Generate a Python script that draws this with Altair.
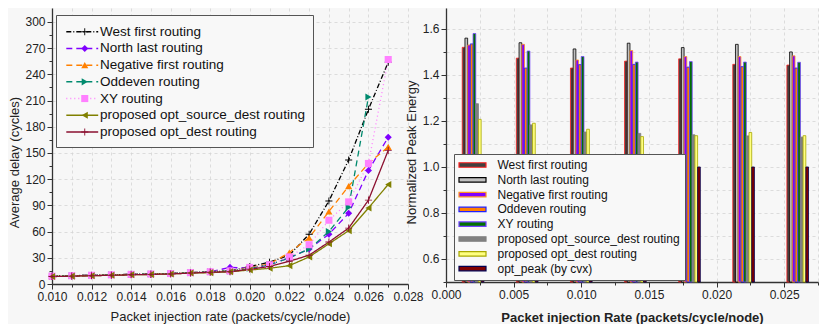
import altair as alt
import pandas as pd

FONT = "Liberation Sans"

# ---------------- left panel: average delay ----------------
rates = [0.010, 0.011, 0.012, 0.013, 0.014, 0.015, 0.016, 0.017, 0.018,
         0.019, 0.020, 0.021, 0.022, 0.023, 0.024, 0.025, 0.026, 0.027]
delay_names = ["West first routing", "North last routing", "Negative first routing",
               "Oddeven routing", "XY routing", "proposed opt_source_dest routing",
               "proposed opt_dest routing"]
west_first = [9, 9.5, 10, 10.5, 11, 11.5, 12, 13, 14, 15, 20, 25, 33, 57, 95, 142, 200, 254]
north_last = [9, 9.5, 10, 10.5, 11, 11.5, 12, 13, 14, 19, 18, 22, 30, 40, 57, 81, 130, 168]
negative_first = [9, 9.5, 10, 10.5, 11, 11.5, 12, 13, 14, 15, 19, 23, 36, 53, 83, 112, 138, 157]
oddeven = [9, 9.5, 10, 10.5, 11, 11.5, 12, 13, 14, 15, 18, 22, 30, 40, 60, 88, 214]
xy = [9, 9.5, 10, 10.5, 11, 11.5, 12, 13, 14, 15, 19, 22, 31, 45, 73, 94, 138, 257]
opt_source_dest = [8.5, 9, 9.5, 10, 10.5, 11, 11.5, 12.5, 13, 14, 16, 18, 21, 31, 46, 61, 87, 114]
opt_dest = [8.5, 9, 9.5, 10, 10.5, 11, 11.5, 12.5, 13.5, 14, 17, 20, 26, 33, 48, 64, 96, 153]
delay_series = [west_first, north_last, negative_first, oddeven, xy, opt_source_dest, opt_dest]

line_colors = ["#000000", "#8000ff", "#ff8000", "#008a6e", "#ff80ff", "#808000", "#8b1030"]
line_dashes = [[5, 2, 1, 2], [6, 4], [6, 4], [6, 4], [1, 3], [1, 0], [1, 0]]
plus_path = "M-1,-0.13H1V0.13H-1Z M-0.13,-1H0.13V1H-0.13Z"
point_shapes = [plus_path, "diamond", "triangle-up", "triangle-right", "square",
                "triangle-left", plus_path]

# marker layer uses its own key (so its legend stays separate from the line legend)
marker_keys = [n + " " for n in delay_names]

rows = []
for name, key, vals in zip(delay_names, marker_keys, delay_series):
    for r, v in zip(rates, vals):
        rows.append({"rate": r, "delay": v, "series": name, "marker": key})
delay_df = pd.DataFrame(rows)

x_ticks = [round(0.010 + 0.001 * i, 3) for i in range(19)]
y_ticks = [15 * i for i in range(21)]

x_left = alt.X(
    "rate:Q",
    scale=alt.Scale(domain=[0.010, 0.028], nice=False, zero=False),
    axis=alt.Axis(
        values=x_ticks, format=".3f",
        labelExpr="round(datum.value*1000) % 2 == 0 ? datum.label : ''",
        tickSize={"condition": {"test": "round(datum.value*1000) % 2 == 0", "value": 5}, "value": 3},
        title="Packet injection rate (packets/cycle/node)", titlePadding=8,
        labelFlush=False, labelOverlap=False,
    ),
)
y_left = alt.Y(
    "delay:Q",
    scale=alt.Scale(domain=[0, 316], nice=False),
    axis=alt.Axis(
        values=y_ticks,
        labelExpr="datum.value % 30 == 0 ? datum.label : ''",
        tickSize={"condition": {"test": "datum.value % 30 == 0", "value": 5}, "value": 3},
        gridOpacity={"condition": {"test": "datum.value % 30 == 0", "value": 1}, "value": 0},
        title="Average delay (cycles)", titlePadding=3, titleY=154,
        labelFlush=False, labelOverlap=False,
    ),
)

common_left_legend = dict(
    orient="none", legendX=4, legendY=7,
    title=" ", titleFontSize=2, titlePadding=0,
    labelFont=FONT, labelFontSize=13.5, labelLimit=400,
    rowPadding=1.7, padding=8,
)
line_legend = alt.Legend(
    symbolType="M-2.9,0H2.9", symbolSize=121, symbolStrokeWidth=1.5,
    symbolOffset=11.5, labelOffset=11, labelColor="#111111",
    fillColor="#f8f8f8", strokeColor="#555555", zindex=0,
    **common_left_legend,
)
point_legend = alt.Legend(
    symbolSize=50, symbolOffset=14, symbolStrokeWidth=0,
    labelOpacity=0, zindex=1,
    **common_left_legend,
)

lines = alt.Chart(delay_df).mark_line(strokeWidth=1.3).encode(
    x=x_left, y=y_left,
    stroke=alt.Stroke("series:N", scale=alt.Scale(domain=delay_names, range=line_colors),
                      legend=line_legend),
    strokeDash=alt.StrokeDash("series:N", scale=alt.Scale(domain=delay_names, range=line_dashes),
                              legend=line_legend),
    order="rate:Q",
)
points = alt.Chart(delay_df).mark_point(filled=True, opacity=1, size=50).encode(
    x=x_left, y=y_left,
    fill=alt.Fill("marker:N", scale=alt.Scale(domain=marker_keys, range=line_colors),
                  legend=point_legend),
    shape=alt.Shape("marker:N", scale=alt.Scale(domain=marker_keys, range=point_shapes),
                    legend=point_legend),
)
left = alt.layer(lines, points).properties(width=356, height=276)

# ---------------- right panel: normalized peak energy ----------------
group_rates = [0.002, 0.006, 0.010, 0.014, 0.018, 0.022, 0.026]
energy_names = ["West first routing", "North last routing", "Negative first routing",
                "Oddeven routing", "XY routing", "proposed opt_source_dest routing",
                "proposed opt_dest routing", "opt_peak (by cvx)"]
west_first_e = [1.52, 1.473, 1.43, 1.46, 1.47, 1.446, 1.443]
north_last_e = [1.56, 1.54, 1.513, 1.538, 1.519, 1.533, 1.50]
negative_first_e = [1.53, 1.533, 1.465, 1.506, 1.48, 1.48, 1.483]
oddeven_e = [1.535, 1.43, 1.445, 1.446, 1.434, 1.436, 1.43]
xy_e = [1.58, 1.504, 1.48, 1.456, 1.458, 1.456, 1.455]
opt_source_dest_e = [1.275, 1.183, 1.152, 1.146, 1.14, 1.135, 1.13]
opt_dest_e = [1.207, 1.19, 1.164, 1.132, 1.136, 1.15, 1.136]
opt_peak_e = [1.0, 1.0, 1.0, 1.0, 1.0, 1.0, 1.0]
energy_series = [west_first_e, north_last_e, negative_first_e, oddeven_e, xy_e,
                 opt_source_dest_e, opt_dest_e, opt_peak_e]

bar_fills = ["#404040", "#c0c0c0", "#8000ff", "#ff8000", "#007000", "#808080", "#ffff80", "#800000"]
bar_strokes = ["#ff2020", "#000000", "#ff9020", "#2020ff", "#7040ff", "#808080", "#a8a800", "#000050"]

erows = []
for idx, (name, vals) in enumerate(zip(energy_names, energy_series)):
    for c, v in zip(group_rates, vals):
        erows.append({"center": c, "energy": v, "bseries": name, "idx": idx})
energy_df = pd.DataFrame(erows)

rx_ticks = [round(0.0025 * i, 4) for i in range(12)]
ry_ticks = [round(0.5 + 0.1 * i, 1) for i in range(12)]

bar_legend = alt.Legend(
    title=None, orient="none", legendX=8, legendY=146,
    symbolType="M-2.7,-0.45H2.7V0.45H-2.7Z", symbolSize=100, symbolStrokeWidth=1.2,
    symbolOffset=7.5, labelOffset=19,
    labelFont=FONT, labelFontSize=12, labelColor="#111111", labelLimit=400,
    rowPadding=2.8, padding=5, fillColor="#f8f8f8", strokeColor="#555555", zindex=1,
)

right = alt.Chart(energy_df).transform_calculate(
    x0="datum.center + (datum.idx - 4) * 0.0002",
    x1="datum.center + (datum.idx - 3) * 0.0002",
).mark_bar(strokeWidth=0.8).encode(
    x=alt.X("x0:Q",
            scale=alt.Scale(domain=[0, 0.0275], nice=False, zero=False),
            axis=alt.Axis(values=rx_ticks, format=".3f",
                          labelExpr="round(datum.value*10000) % 50 == 0 ? datum.label : ''",
                          tickSize={"condition": {"test": "round(datum.value*10000) % 50 == 0", "value": 5}, "value": 3},
                          title="Packet injection Rate (packets/cycle/node)",
                          titleFontWeight="bold", titlePadding=11,
                          labelFlush=False, labelOverlap=False)),
    x2="x1:Q",
    y=alt.Y("energy:Q",
            scale=alt.Scale(domain=[0.5, 1.691], nice=False, zero=False),
            axis=alt.Axis(values=ry_ticks,
                          labelExpr="round(datum.value*10) % 2 == 0 ? format(datum.value, '.1f') : ''",
                          tickSize={"condition": {"test": "round(datum.value*10) % 2 == 0", "value": 5}, "value": 3},
                          title="Normalized Peak Energy", titlePadding=4, titleY=144,
                          labelFlush=False, labelOverlap=False)),
    y2=alt.datum(0.5),
    fill=alt.Fill("bseries:N", scale=alt.Scale(domain=energy_names, range=bar_fills), legend=bar_legend),
    stroke=alt.Stroke("bseries:N", scale=alt.Scale(domain=energy_names, range=bar_strokes), legend=bar_legend),
).properties(width=372, height=274)

chart = alt.hconcat(left, right, spacing=38, bounds="flush").resolve_scale(
    fill="independent", stroke="independent", shape="independent", strokeDash="independent"
).resolve_legend(
    fill="independent", stroke="independent", shape="independent", strokeDash="independent"
).properties(
    padding=0, background="#f7f7f7"
).configure_view(stroke=None).configure_axis(
    labelFont=FONT, labelFontSize=12, labelColor="#222222",
    titleFont=FONT, titleFontSize=13, titleFontWeight="normal", titleColor="#222222",
    domainColor="#333333", domainWidth=1.3, tickColor="#333333",
    grid=True, gridColor="#d4d4d4", gridDash=[3, 3], gridWidth=0.8,
)

chart.save("out.html", embed_options={"renderer": "svg", "actions": False})
